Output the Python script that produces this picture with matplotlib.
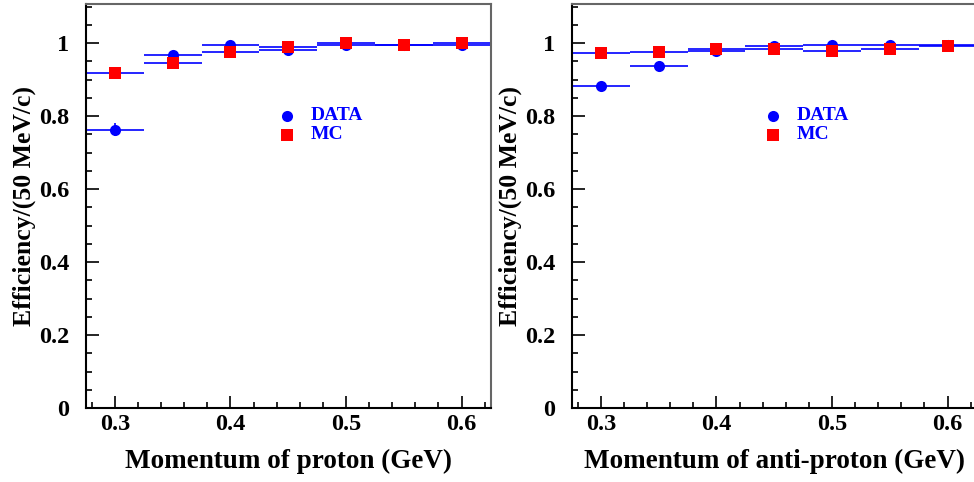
import matplotlib
matplotlib.use("Agg")
import matplotlib.pyplot as plt
from matplotlib.ticker import MultipleLocator, FuncFormatter

# Momentum bin centres (GeV) and half bin width
momentum = [0.30, 0.35, 0.40, 0.45, 0.50, 0.55, 0.60]
half_bin = 0.025

# Proton efficiencies
proton_data = [0.762, 0.966, 0.994, 0.982, 0.995, 0.995, 0.995]
proton_data_err = [0.018, 0.006, 0.004, 0.004, 0.003, 0.003, 0.003]
proton_mc = [0.917, 0.944, 0.976, 0.988, 0.999, 0.994, 1.001]
proton_mc_err = [0.003, 0.003, 0.002, 0.002, 0.002, 0.002, 0.002]

# Anti-proton efficiencies
antiproton_data = [0.882, 0.938, 0.977, 0.992, 0.995, 0.996, 0.995]
antiproton_data_err = [0.010, 0.006, 0.004, 0.003, 0.003, 0.003, 0.003]
antiproton_mc = [0.974, 0.976, 0.983, 0.983, 0.978, 0.985, 0.992]
antiproton_mc_err = [0.003, 0.003, 0.002, 0.002, 0.002, 0.002, 0.002]

x_labels = ["Momentum of proton (GeV)", "Momentum of anti-proton (GeV)"]
y_label = "Efficiency/(50 MeV/c)"
legend_labels = ["DATA", "MC"]

FONT = "Liberation Serif"
BLUE = "#0000ff"
RED = "#ff0000"

fig = plt.figure(figsize=(9.74, 4.82), dpi=100)
W, H = 974, 482
ax_w = 404.5 / W
ax_bottom = 1 - 408 / H
ax_h = (408 - 4) / H
axes = [fig.add_axes([86 / W, ax_bottom, ax_w, ax_h]),
        fig.add_axes([572 / W, ax_bottom, ax_w, ax_h])]

panels = [
    (proton_data, proton_data_err, proton_mc, proton_mc_err),
    (antiproton_data, antiproton_data_err, antiproton_mc, antiproton_mc_err),
]

fmt = FuncFormatter(lambda v, p: "%g" % round(v, 3))

for ax, (d, de, m, me), xl in zip(axes, panels, x_labels):
    ax.errorbar(momentum, d, xerr=half_bin, yerr=de, fmt="none",
                ecolor=BLUE, elinewidth=1.2, capsize=0, zorder=2)
    ax.errorbar(momentum, m, xerr=half_bin, yerr=me, fmt="none",
                ecolor=BLUE, elinewidth=1.2, capsize=0, zorder=2)
    ax.plot(momentum, d, "o", color=BLUE, markersize=8, markeredgewidth=0,
            zorder=3)
    ax.plot(momentum, m, "s", color=RED, markersize=8.5, markeredgewidth=0,
            zorder=4)

    ax.set_xlim(0.275, 0.625)
    ax.set_ylim(0, 1.107)
    ax.xaxis.set_major_locator(MultipleLocator(0.1))
    ax.xaxis.set_minor_locator(MultipleLocator(0.02))
    ax.yaxis.set_major_locator(MultipleLocator(0.2))
    ax.yaxis.set_minor_locator(MultipleLocator(0.05))
    ax.xaxis.set_major_formatter(fmt)
    ax.yaxis.set_major_formatter(fmt)
    ax.tick_params(which="both", direction="in", top=False, right=False,
                   width=1.2, color="black")
    ax.tick_params(which="major", length=9)
    ax.tick_params(which="minor", length=4.5)
    ax.tick_params(axis="y", which="major", pad=12)
    ax.tick_params(axis="x", which="major", pad=4)
    for lab in ax.get_xticklabels() + ax.get_yticklabels():
        lab.set_fontfamily(FONT)
        lab.set_fontweight("bold")
        lab.set_fontsize(17.5)

    for side in ("left", "bottom"):
        ax.spines[side].set_color("black")
        ax.spines[side].set_linewidth(1.5)
    for side in ("top", "right"):
        ax.spines[side].set_color("#666666")
        ax.spines[side].set_linewidth(1.5)

    ax.set_xlabel(xl, fontfamily=FONT, fontweight="bold", fontsize=19.5,
                  labelpad=10)
    ax.set_ylabel(y_label, fontfamily=FONT, fontweight="bold", fontsize=18.5,
                  labelpad=2)

    # Legend drawn as markers and labels in axes coordinates
    ax.plot([0.497], [0.723], "o", color=BLUE, markersize=8,
            markeredgewidth=0, transform=ax.transAxes, clip_on=False)
    ax.plot([0.497], [0.676], "s", color=RED, markersize=8.5,
            markeredgewidth=0, transform=ax.transAxes, clip_on=False)
    ax.text(0.555, 0.723, legend_labels[0], color=BLUE, fontfamily=FONT,
            fontweight="bold", fontsize=14, va="center", ha="left",
            transform=ax.transAxes)
    ax.text(0.555, 0.676, legend_labels[1], color=BLUE, fontfamily=FONT,
            fontweight="bold", fontsize=14, va="center", ha="left",
            transform=ax.transAxes)

fig.savefig("out.png", dpi=100)
